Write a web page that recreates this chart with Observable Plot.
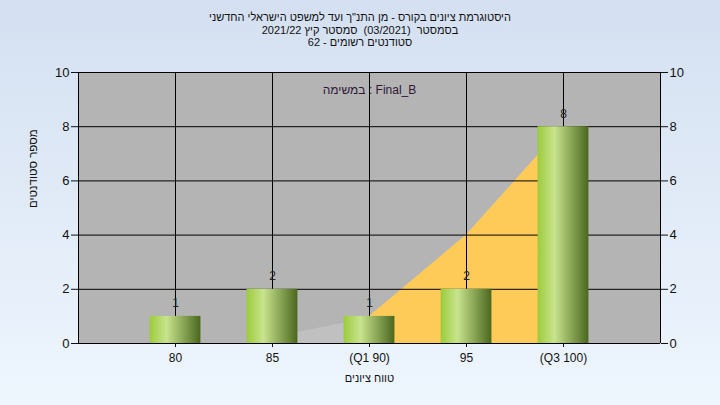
<!DOCTYPE html>
<html><head><meta charset="utf-8">
<script src="https://cdn.jsdelivr.net/npm/d3@7"></script>
<script src="https://cdn.jsdelivr.net/npm/@observablehq/plot@0.6"></script>
<style>
html,body{margin:0;padding:0;}
body{width:720px;height:405px;overflow:hidden;background:linear-gradient(to bottom,#d4e0f1,#eef6fe);font-family:"Liberation Sans",Arial,sans-serif;}
#title{height:60px;box-sizing:border-box;padding-top:11px;text-align:center;font-size:11px;line-height:12.6px;color:#111;direction:rtl;}
#chart svg{display:block;background:transparent;}
</style></head><body>
<div id="title"><div>היסטוגרמת ציונים בקורס - מן התנ"ך ועד למשפט הישראלי החדשני</div><div>בסמסטר &nbsp;(03/2021) &nbsp;סמסטר קיץ 2021/22</div><div>סטודנטים רשומים - 62</div></div>
<div id="chart"></div>
<script>
const scores = [80, 85, 90, 95, 100];
const tickLabels = ["80", "85", "\u200E(Q1 90)\u200E", "95", "\u200E(Q3 100)\u200E"];
const counts = [1, 2, 1, 2, 8];
const yellowX = [90, 95, 100];
const yellowY = [1, 4, 8];
const greyX = [83.4, 85, 90];
const greyY = [0, 0.23, 0.93];
const yTicks = [0, 2, 4, 6, 8, 10];

const bars = scores.map((s, i) => ({score: s, count: counts[i]}));
const yellow = yellowX.map((x, i) => ({x, y: yellowY[i]}));
const grey = greyX.map((x, i) => ({x, y: greyY[i]}));
const half = 1.31;

const chart = Plot.plot({
  width: 720, height: 345,
  marginLeft: 78, marginRight: 60, marginTop: 12, marginBottom: 62,
  style: {fontFamily: '"Liberation Sans", Arial, sans-serif', fontSize: "12px", background: "transparent", color: "#111"},
  x: {type: "linear", domain: [75, 105]},
  y: {domain: [0, 10]},
  marks: [
    Plot.frame({fill: "#b4b4b4", stroke: null}),
    Plot.areaY(grey, {x: "x", y: "y", fill: "#c0c0c0"}),
    Plot.areaY(yellow, {x: "x", y: "y", fill: "#fecb58"}),
    Plot.gridY(yTicks, {stroke: "#000", strokeOpacity: 1}),
    Plot.gridX(scores, {stroke: "#000", strokeOpacity: 1}),
    Plot.rectY(bars, {x1: d => d.score - half, x2: d => d.score + half, y: "count", fill: "url(#barGrad)", ariaLabel: "bars"}),
    Plot.text(bars, {x: "score", y: "count", text: d => String(d.count), dy: -13, fill: "#222", fontSize: 12}),
    Plot.text(["במשימה : Final_B"], {frameAnchor: "top", dy: 13, dx: 0, fill: "#301838", fontSize: 12}),
    Plot.ruleX([75, 105], {stroke: "#000"}),
    Plot.ruleY([0], {stroke: "#000"}),
    Plot.axisY(yTicks, {anchor: "left", tickSize: 7, tickPadding: 2, fontSize: 13, label: null}),
    Plot.axisY(yTicks, {anchor: "right", tickSize: 7, tickPadding: 2, fontSize: 13, label: null}),
    Plot.axisX(scores, {tickSize: 4, tickPadding: 6, fontSize: 12, tickFormat: (d) => tickLabels[scores.indexOf(d)], label: null}),
    Plot.text(["מספר סטודנטים"], {frameAnchor: "left", dx: -45, rotate: -90, fontSize: 11.5, fill: "#111"}),
    Plot.text(["טווח ציונים"], {frameAnchor: "bottom", dy: 38, fontSize: 11, fill: "#111"})
  ]
});

const svg = d3.select(chart);
const defs = svg.insert("defs", ":first-child");
const g = defs.append("linearGradient").attr("id", "barGrad").attr("x1", "0%").attr("x2", "100%").attr("y1", "0%").attr("y2", "0%");
g.append("stop").attr("offset", "0%").attr("stop-color", "#9ccb3b");
g.append("stop").attr("offset", "33%").attr("stop-color", "#c8e48e");
g.append("stop").attr("offset", "100%").attr("stop-color", "#4a671e");
const f = defs.append("filter").attr("id", "shadow").attr("x", "-20%").attr("y", "-20%").attr("width", "160%").attr("height", "160%");
f.append("feDropShadow").attr("dx", 4).attr("dy", 3).attr("stdDeviation", 2).attr("flood-color", "#000").attr("flood-opacity", 0.55);
svg.selectAll('g[aria-label="bars"]').attr("filter", "url(#shadow)");
svg.selectAll('g[aria-label="x-axis tick label"] text').attr("direction", "ltr").style("direction", "ltr").style("unicode-bidi", "embed");
document.getElementById("chart").appendChild(chart);
</script>
</body></html>
